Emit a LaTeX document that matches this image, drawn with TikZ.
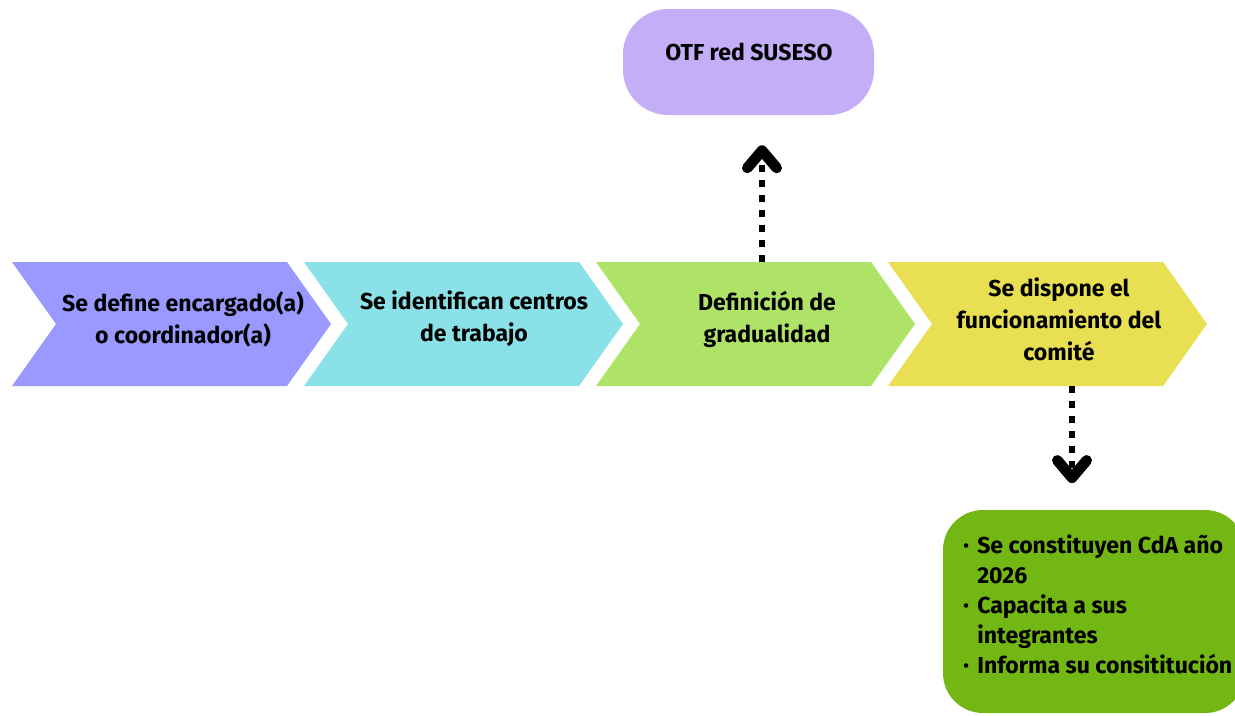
\documentclass[tikz,border=0pt]{standalone}
\usepackage{fontspec}
\setmainfont{Fira Sans}
\usetikzlibrary{arrows.meta}
\definecolor{cone}{RGB}{153,153,255}
\definecolor{ctwo}{RGB}{138,226,232}
\definecolor{cthree}{RGB}{174,227,104}
\definecolor{cfour}{RGB}{232,224,82}
\definecolor{otfcol}{RGB}{196,174,248}
\definecolor{greencol}{RGB}{114,183,19}
\newcommand\bul{\makebox[10.5pt][l]{\raisebox{0.12em}{\scalebox{0.7}{\textbullet}}}}
\begin{document}
\begin{tikzpicture}[x=0.75pt,y=-0.75pt,
  chevtext/.style={align=center,font=\bfseries\fontsize{17.3}{24}\selectfont,text=black,inner sep=0pt},
  dotarrow/.style={line width=4.5pt,dash pattern=on 5.25pt off 6pt,
     -{Straight Barb[length=13pt,width=22pt,line width'=8pt,round]}},
  otfbox/.style={fill=otfcol,rounded corners=34pt,minimum width=188.25pt,minimum height=79.5pt,inner sep=0pt},
  gbox/.style={fill=greencol,rounded corners=30pt,minimum width=226.5pt,minimum height=152.25pt,inner sep=0pt}]
\useasboundingbox (0,0) rectangle (1235,715);
\clip (0,0) rectangle (1235,715);
% chevrons
\fill[cone] (12,262) -- (287,262) -- (331,324) -- (287,386) -- (12,386) -- (56,324) -- cycle;
\fill[ctwo] (304,262) -- (579,262) -- (623,324) -- (579,386) -- (304,386) -- (348,324) -- cycle;
\fill[cthree] (596,262) -- (871,262) -- (915,324) -- (871,386) -- (596,386) -- (640,324) -- cycle;
\fill[cfour] (888,262) -- (1163,262) -- (1207,324) -- (1163,386) -- (888,386) -- (932,324) -- cycle;
\node[chevtext] (t1) at (183,319) {Se define encargado(a)\\o coordinador(a)};
\node[chevtext] (t2) at (474,319) {Se identifican centros\\de trabajo};
\node[chevtext] (t3) at (767,319) {Definición de\\gradualidad};
\node[chevtext] (t4) at (1059,319) {Se dispone el\\funcionamiento del\\comité};
% boxes
\node[otfbox] (otf) at (748.5,62) {};
\node[chevtext,anchor=base] (otftext) at (749,60) {OTF red SUSESO};
\node[gbox] (green) at (1094,611.5) {};
\node[align=left,anchor=north west,inner sep=0pt,font=\bfseries\fontsize{17.3}{22.5}\selectfont] (gtext) at (963,535)
  {\bul Se constituyen CdA año\\\hspace*{10.5pt}2026\\\bul Capacita a sus\\\hspace*{10.5pt}integrantes\\\bul Informa su consititución};
% connectors
\coordinate (up0) at (762,262);
\coordinate (dn0) at (1072,386);
\draw[dotarrow,shorten >=22.5pt] (up0) -- (up0 |- otf.south);
\draw[dotarrow,shorten >=20pt] (dn0) -- (dn0 |- green.north);
\end{tikzpicture}
\end{document}
